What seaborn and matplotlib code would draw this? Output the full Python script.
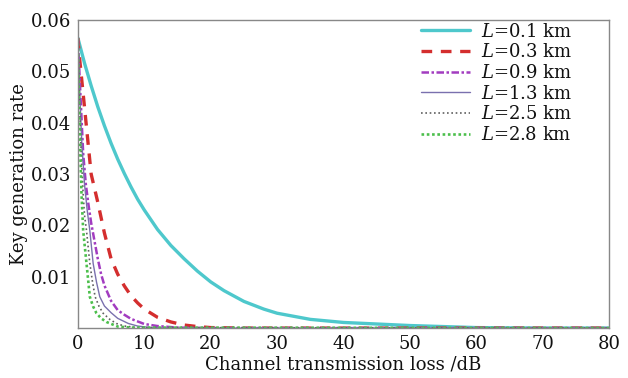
import numpy as np
import pandas as pd
import matplotlib
matplotlib.use("Agg")
import matplotlib.pyplot as plt
import seaborn as sns

# ---- data ----
labels = [r"$L$=0.1 km", r"$L$=0.3 km", r"$L$=0.9 km", r"$L$=1.3 km", r"$L$=2.5 km", r"$L$=2.8 km"]

x_01 = [0.0, 1, 2, 3, 4, 5, 6, 7, 8, 9, 10, 12, 14, 16, 18, 20, 22, 25, 28, 30, 35, 40, 45, 50, 55, 60, 70, 80]
y_01 = [0.0565, 0.0516, 0.0472, 0.0431, 0.0394, 0.0360, 0.0329, 0.0301, 0.0275, 0.0251, 0.0230, 0.0192,
        0.0161, 0.0135, 0.0111, 0.0090, 0.0073, 0.0052, 0.0037, 0.0029, 0.0017, 0.0011, 0.0008, 0.0005,
        0.0003, 0.0001, 0.0, 0.0]

x_03 = [0.0, 0.3, 1, 2, 3, 4, 5, 6, 7, 8, 9, 10, 12, 14, 16, 18, 20, 25, 30, 80]
y_03 = [0.0565, 0.052, 0.043, 0.030, 0.0245, 0.0185, 0.0135, 0.0105, 0.0082, 0.0063, 0.0049, 0.0037,
        0.0021, 0.0012, 0.0006, 0.0003, 0.0001, 0.0, 0.0, 0.0]

x_09 = [0.0, 0.4, 0.8, 1.2, 1.6, 2.0, 2.5, 3, 3.5, 4, 5, 6, 7, 8, 10, 12, 15, 20, 80]
y_09 = [0.0565, 0.045, 0.034, 0.028, 0.024, 0.0205, 0.0170, 0.0135, 0.0105, 0.0083, 0.0053, 0.0035,
        0.0026, 0.0018, 0.0008, 0.0004, 0.0001, 0.0, 0.0]

x_13 = [0.0, 0.3, 0.6, 1.0, 1.4, 1.8, 2.3, 2.8, 3.3, 4, 5, 6, 7.6, 9, 11, 15, 80]
y_13 = [0.0565, 0.045, 0.036, 0.028, 0.023, 0.019, 0.0126, 0.0090, 0.0061, 0.0043, 0.0030, 0.0019,
        0.0009, 0.0004, 0.0001, 0.0, 0.0]

x_25 = [0.0, 0.2, 0.5, 0.8, 1.0, 1.3, 1.8, 2.2, 2.6, 3.2, 3.8, 4.8, 5.8, 7, 9, 80]
y_25 = [0.0565, 0.046, 0.034, 0.026, 0.022, 0.019, 0.0126, 0.0090, 0.0061, 0.0042, 0.0029, 0.0017,
        0.0009, 0.0004, 0.0001, 0.0]

x_28 = [0.0, 0.15, 0.35, 0.55, 0.8, 1.3, 1.8, 2.3, 2.8, 3.5, 4.3, 6, 8, 80]
y_28 = [0.0565, 0.046, 0.035, 0.026, 0.019, 0.0126, 0.0061, 0.0042, 0.0029, 0.0019, 0.0012, 0.0003,
        0.0001, 0.0]

xs = [x_01, x_03, x_09, x_13, x_25, x_28]
ys = [y_01, y_03, y_09, y_13, y_25, y_28]

x_ticks = [0, 10, 20, 30, 40, 50, 60, 70, 80]
y_ticks = [0.01, 0.02, 0.03, 0.04, 0.05, 0.06]
y_ticklabels = ["0.01", "0.02", "0.03", "0.04", "0.05", "0.06"]

# ---- styles ----
colors = ["#4ec8cc", "#d42e2e", "#a23cc0", "#7a70ae", "#606060", "#4cbf4c"]
styles = ["-", (0, (3.2, 2.6)), (0, (3.0, 1.0, 1.0, 1.0)), "-", (0, (1.0, 1.6)), (0, (1.0, 1.0))]
widths = [2.4, 2.4, 1.8, 1.0, 1.2, 1.9]

sns.set_theme(style="white")
plt.rcParams["font.family"] = ["DejaVu Serif"]
plt.rcParams["mathtext.fontset"] = "dejavuserif"

fig = plt.figure(figsize=(6.28, 3.78), dpi=100)
ax = fig.add_axes([0.124, 0.132, 0.846, 0.815])

for x, y, lab, c, ls, lw in zip(xs, ys, labels, colors, styles, widths):
    df = pd.DataFrame({"loss": x, "rate": y})
    sns.lineplot(data=df, x="loss", y="rate", ax=ax, color=c, linestyle=ls,
                 linewidth=lw, label=lab, sort=False, estimator=None)

ax.set_xlim(0, 80)
ax.set_ylim(0, 0.06)
ax.set_xticks(x_ticks)
ax.set_xticklabels([str(t) for t in x_ticks])
ax.set_yticks(y_ticks)
ax.set_yticklabels(y_ticklabels)
ax.tick_params(direction="in", length=3, width=0.8, color="#888888",
               labelsize=13, labelcolor="#111111", pad=5)
for s in ax.spines.values():
    s.set_visible(True)
    s.set_color("#888888")
    s.set_linewidth(1.0)

ax.set_xlabel("Channel transmission loss /dB", fontsize=13, color="#111111", labelpad=2)
ax.set_ylabel("Key generation rate", fontsize=13, color="#111111", labelpad=2)

leg = ax.legend(loc="upper right", bbox_to_anchor=(0.943, 1.015), frameon=False, fontsize=13,
                handlelength=2.7, handletextpad=0.6, labelspacing=0.15, borderaxespad=0.0)
for t in leg.get_texts():
    t.set_color("#111111")

fig.savefig("out.png", dpi=100)
